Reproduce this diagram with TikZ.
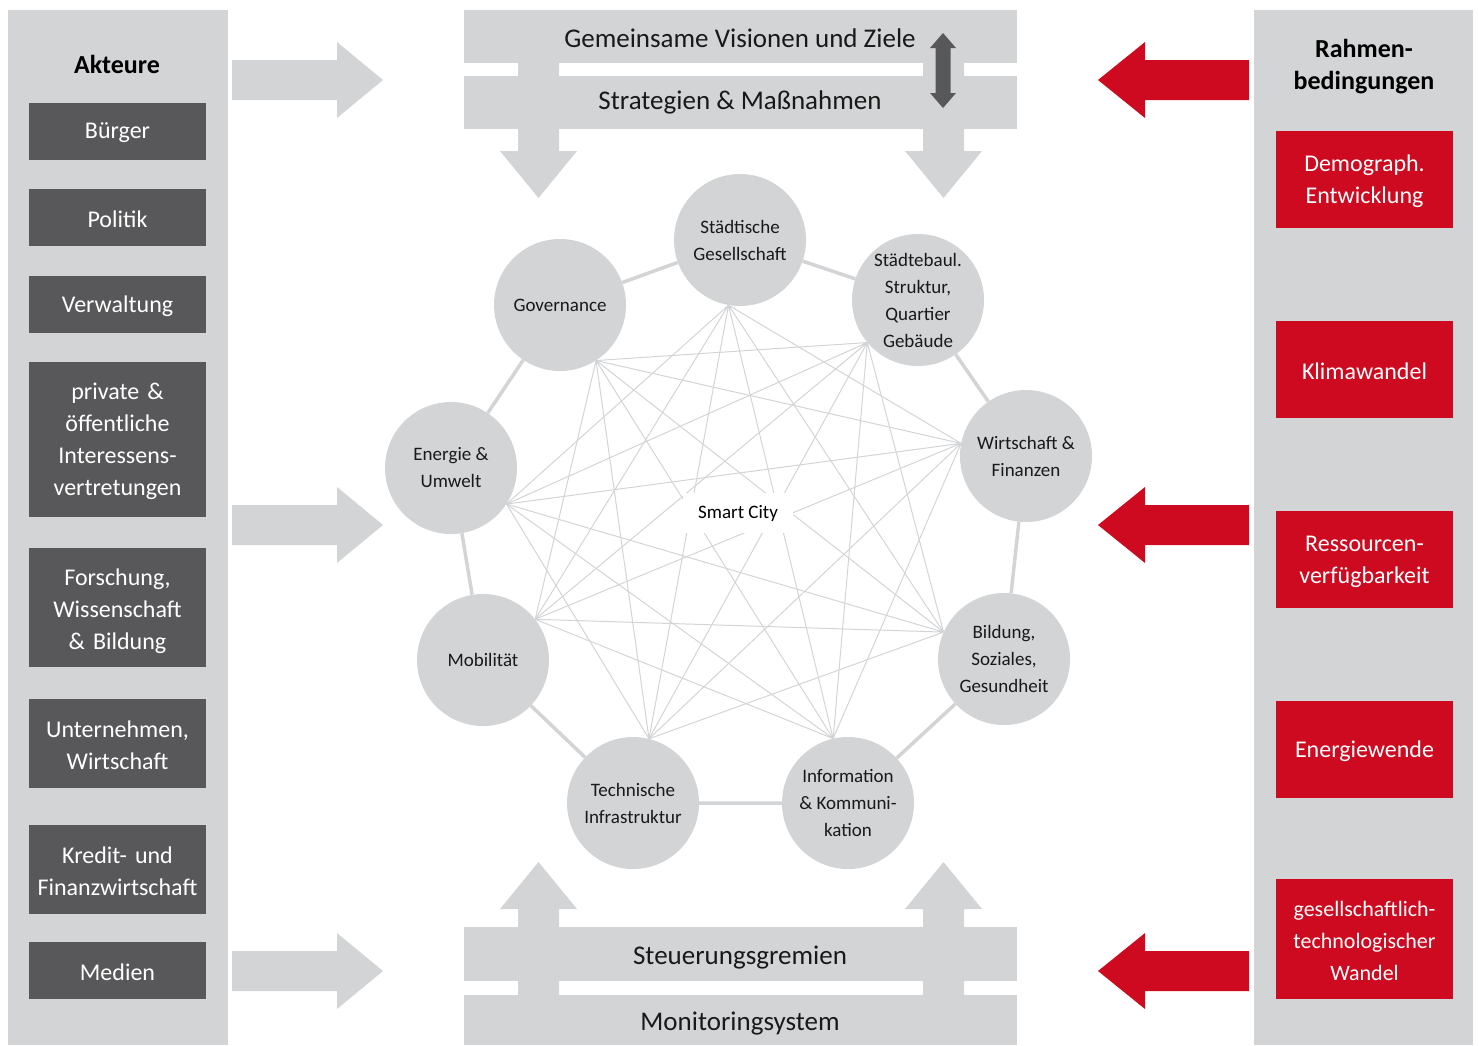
\documentclass[tikz,border=0pt]{standalone}
\usepackage{fontspec}
\setmainfont{Carlito}
\usetikzlibrary{backgrounds}
\definecolor{panelgray}{HTML}{D3D4D6}
\definecolor{boxgray}{HTML}{58585A}
\definecolor{boxred}{HTML}{CD0A20}
\tikzstyle{actor} = [rectangle, minimum width=177pt, text width=177pt, inner sep=0pt, align=center, fill=boxgray, text=white, font=\fontsize{24}{32}\selectfont]
\tikzstyle{frame} = [rectangle, minimum width=177pt, text width=177pt, inner sep=0pt, align=center, fill=boxred, text=white, font=\fontsize{24}{32}\selectfont]
\tikzstyle{field} = [circle, minimum size=132pt, inner sep=0pt, fill=panelgray, align=center, text=black!90, font=\fontsize{19}{27}\selectfont]
\tikzstyle{title} = [align=center, font=\bfseries\fontsize{26}{32}\selectfont]
\tikzstyle{bartext} = [font=\fontsize{27}{32}\selectfont, text=black!90]
\tikzstyle{ring} = [draw=panelgray, line width=3.5pt]
\tikzstyle{chord} = [draw=panelgray, line width=1pt]
\tikzstyle{block} = [fill=panelgray]
\tikzstyle{redblock} = [fill=boxred]

\begin{document}
\begin{tikzpicture}[x=1pt, y=-1pt]
\useasboundingbox (0,0) rectangle (1479,1045);
% panels
\fill [panelgray] (8,10) rectangle (228,1045);
\fill [panelgray] (1254,10) rectangle (1473,1045);
\node (akt) [title] at (117,64) {Akteure};
\node (rah) [title] at (1364,67) {Rahmen-\\bedingungen};

% Akteure
\fill [boxgray] (29,103) rectangle (206,160);
\fill [boxgray] (29,189) rectangle (206,246);
\fill [boxgray] (29,276) rectangle (206,333);
\fill [boxgray] (29,362) rectangle (206,517);
\fill [boxgray] (29,548) rectangle (206,667);
\fill [boxgray] (29,699) rectangle (206,788);
\fill [boxgray] (29,825) rectangle (206,914);
\fill [boxgray] (29,942) rectangle (206,999);
\node (buerger) [actor] at (117.5,133) {Bürger};
\node (politik) [actor] at (117.5,219) {Politik};
\node (verw) [actor] at (117.5,306) {Verwaltung};
\node (priv) [actor] at (117.5,441) {private \&\\öffentliche\\Interessens-\\vertretungen};
\node (forsch) [actor] at (117.5,611) {Forschung,\\Wissenschaft\\\& Bildung};
\node (untern) [actor] at (117.5,745) {Unternehmen,\\Wirtschaft};
\node (kredit) [actor] at (117.5,871) {Kredit- und\\Finanzwirtschaft};
\node (medien) [actor] at (117.5,972) {Medien};

% Rahmenbedingungen
\fill [boxred] (1276,131) rectangle (1453,228);
\fill [boxred] (1276,321) rectangle (1453,418);
\fill [boxred] (1276,511) rectangle (1453,608);
\fill [boxred] (1276,701) rectangle (1453,798);
\fill [boxred] (1276,879) rectangle (1453,999);
\node (demo) [frame] at (1364.5,181) {Demograph.\\Entwicklung};
\node (klima) [frame] at (1364.5,371) {Klimawandel};
\node (ress) [frame] at (1364.5,562) {Ressourcen-\\verfügbarkeit};
\node (ewende) [frame] at (1364.5,751) {Energiewende};
\node (gtw) [frame, font=\fontsize{22}{32}\selectfont] at (1364.5,941) {gesellschaftlich-\\technologischer\\Wandel};

% block arrows left
\fill [block] (232,60) -- (337,60) -- (337,42) -- (383,80) -- (337,118) -- (337,100) -- (232,100) -- cycle;
\fill [block] (232,505) -- (337,505) -- (337,487) -- (383,525) -- (337,563) -- (337,545) -- (232,545) -- cycle;
\fill [block] (232,951) -- (337,951) -- (337,933) -- (383,971) -- (337,1009) -- (337,991) -- (232,991) -- cycle;
% block arrows right
\fill [redblock] (1249,60) -- (1145,60) -- (1145,42) -- (1098,80) -- (1145,118) -- (1145,100) -- (1249,100) -- cycle;
\fill [redblock] (1249,505) -- (1145,505) -- (1145,487) -- (1098,525) -- (1145,563) -- (1145,545) -- (1249,545) -- cycle;
\fill [redblock] (1249,951) -- (1145,951) -- (1145,933) -- (1098,971) -- (1145,1009) -- (1145,991) -- (1249,991) -- cycle;

% top bars
\fill [block] (464,10) rectangle (1017,63);
\fill [block] (464,76) rectangle (1017,129);
\fill [block] (518,63) -- (559,63) -- (559,151) -- (577,151) -- (538.5,198) -- (500,151) -- (518,151) -- cycle;
\fill [block] (923,63) -- (964,63) -- (964,151) -- (982,151) -- (943.5,198) -- (905,151) -- (923,151) -- cycle;
\fill [boxgray] (943,33) -- (956,48) -- (950.5,48) -- (950.5,93) -- (956,93) -- (943,108) -- (930,93) -- (935.5,93) -- (935.5,48) -- (930,48) -- cycle;
\node (ziele) [bartext] at (740,38) {Gemeinsame Visionen und Ziele};
\node (strat) [bartext] at (740,102) {Strategien \& Maßnahmen};

% bottom bars
\fill [block] (464,927) rectangle (1017,981);
\fill [block] (464,995) rectangle (1017,1045);
\fill [block] (518,995) -- (559,995) -- (559,909) -- (577,909) -- (538.5,862) -- (500,909) -- (518,909) -- cycle;
\fill [block] (923,995) -- (964,995) -- (964,909) -- (982,909) -- (943.5,862) -- (905,909) -- (923,909) -- cycle;
\node (steuer) [bartext] at (740,958) {Steuerungsgremien};
\node (monit) [bartext] at (740,1024) {Monitoringsystem};

% handlungsfelder
\node (gesell) [field] at (740,240) {Städtische\\Gesellschaft};
\node (bau) [field] at (918,300) {Städtebaul.\\Struktur,\\Quartier\\Gebäude};
\node (wirt) [field] at (1026,456) {Wirtschaft \&\\Finanzen};
\node (bild) [field] at (1004,659) {Bildung,\\Soziales,\\Gesundheit};
\node (info) [field] at (848,803) {Information\\\& Kommuni-\\kation};
\node (tech) [field] at (633,803) {Technische\\Infrastruktur};
\node (mobi) [field] at (483,660) {Mobilität};
\node (ener) [field] at (451,468) {Energie \&\\Umwelt};
\node (gov) [field] at (560,305) {Governance};

\coordinate (gesell-h) at (gesell.-100);
\coordinate (bau-h) at (bau.-140);
\coordinate (wirt-h) at (wirt.169);
\coordinate (bild-h) at (bild.156);
\coordinate (info-h) at (info.103);
\coordinate (tech-h) at (tech.76);
\coordinate (mobi-h) at (mobi.38);
\coordinate (ener-h) at (ener.-33);
\coordinate (gov-h) at (gov.-57);

\begin{pgfonlayer}{background}
\draw [ring] (gesell) -- (bau) -- (wirt) -- (bild) -- (info) -- (tech) -- (mobi) -- (ener) -- (gov) -- (gesell);
\draw [chord] (gesell-h) -- (wirt-h) (gesell-h) -- (bild-h) (gesell-h) -- (info-h) (gesell-h) -- (tech-h) (gesell-h) -- (mobi-h) (gesell-h) -- (ener-h);
\draw [chord] (bau-h) -- (bild-h) (bau-h) -- (info-h) (bau-h) -- (tech-h) (bau-h) -- (mobi-h) (bau-h) -- (ener-h) (bau-h) -- (gov-h);
\draw [chord] (wirt-h) -- (info-h) (wirt-h) -- (tech-h) (wirt-h) -- (mobi-h) (wirt-h) -- (ener-h) (wirt-h) -- (gov-h);
\draw [chord] (bild-h) -- (tech-h) (bild-h) -- (mobi-h) (bild-h) -- (ener-h) (bild-h) -- (gov-h);
\draw [chord] (info-h) -- (mobi-h) (info-h) -- (ener-h) (info-h) -- (gov-h);
\draw [chord] (tech-h) -- (ener-h) (tech-h) -- (gov-h);
\draw [chord] (mobi-h) -- (gov-h);
\end{pgfonlayer}

\node (sc) [fill=white, minimum width=110pt, minimum height=40pt, font=\fontsize{19}{24}\selectfont] at (738,513) {Smart City};
\end{tikzpicture}
\end{document}
